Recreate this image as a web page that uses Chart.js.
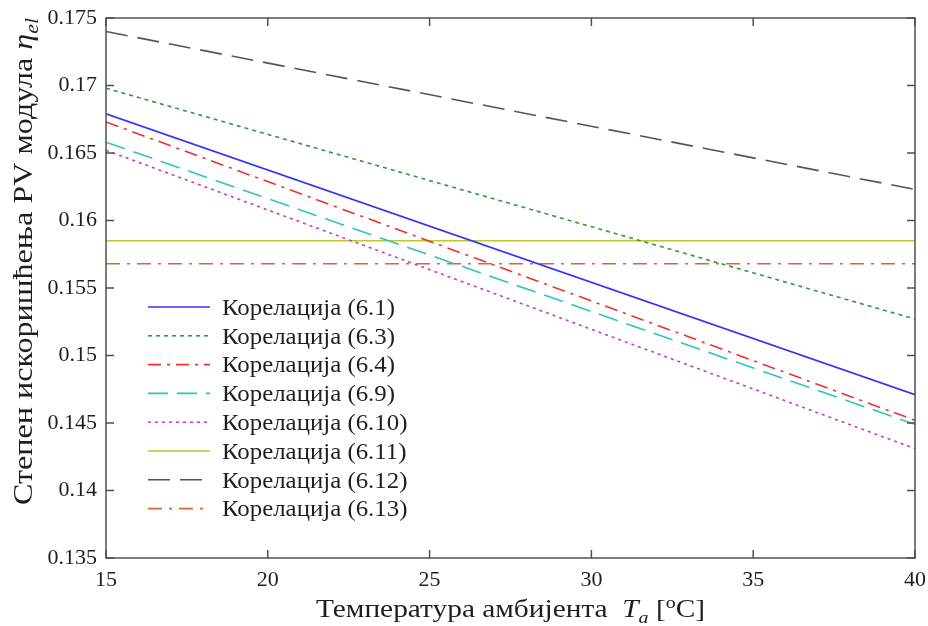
<!DOCTYPE html>
<html>
<head>
<meta charset="utf-8">
<script src="https://cdn.jsdelivr.net/npm/chart.js@4"></script>
<style>
  html, body { margin: 0; padding: 0; background: #fff; }
  #wrap { width: 928px; height: 626px; }
</style>
</head>
<body>
<div id="wrap"><canvas id="effChart" width="928" height="626"></canvas></div>
<script>
// ambient temperature, °C (all correlations are linear in T_a)
const temps = [15, 40];

// electrical efficiency per correlation
const eta61 = [0.1679, 0.1471];
const eta63 = [0.1698, 0.1527];
const eta64 = [0.1673, 0.1452];
const eta69 = [0.1658, 0.1449];
const eta610 = [0.1652, 0.1431];
const eta611 = [0.1585, 0.1585];
const eta612 = [0.1740, 0.1623];
const eta613 = [0.1568, 0.1568];

const seriesLabels = ['Корелација (6.1)', 'Корелација (6.3)', 'Корелација (6.4)', 'Корелација (6.9)',
    'Корелација (6.10)', 'Корелација (6.11)', 'Корелација (6.12)', 'Корелација (6.13)'];
const seriesValues = [eta61, eta63, eta64, eta69, eta610, eta611, eta612, eta613];

const xTicks = [15, 20, 25, 30, 35, 40];
const yTicks = [0.135, 0.14, 0.145, 0.15, 0.155, 0.16, 0.165, 0.17, 0.175];

const colors = ['#3535f5', '#2f9a3a', '#f03030', '#2cc4c0', '#c43cc8', '#c4c42c', '#555555', '#d0683a'];
const dashes = [[], [4, 4], [13, 6, 3, 6], [20, 9], [3, 4], [], [22, 10], [14, 7, 3, 7]];

const SERIF = '"Liberation Serif", "Times New Roman", serif';
const FRAME = '#505050';
const TEXT = '#1e1e1e';

function points(vals) {
    return temps.map((t, i) => ({ x: t, y: vals[i] }));
}

// box round the plot with inward ticks on all four sides
const frameTicks = {
    id: 'frameTicks',
    afterDatasetsDraw(chart) {
        const { ctx, chartArea: a, scales } = chart;
        const len = 8;
        ctx.save();
        ctx.strokeStyle = FRAME;
        ctx.lineWidth = 1.5;
        ctx.strokeRect(a.left, a.top, a.right - a.left, a.bottom - a.top);
        ctx.beginPath();
        xTicks.forEach(v => {
            const px = scales.x.getPixelForValue(v);
            ctx.moveTo(px, a.bottom); ctx.lineTo(px, a.bottom - len);
            ctx.moveTo(px, a.top); ctx.lineTo(px, a.top + len);
        });
        yTicks.forEach(v => {
            const py = scales.y.getPixelForValue(v);
            ctx.moveTo(a.left, py); ctx.lineTo(a.left + len, py);
            ctx.moveTo(a.right, py); ctx.lineTo(a.right - len, py);
        });
        ctx.stroke();
        ctx.restore();
    }
};

// legend in the lower left corner of the plot
const innerLegend = {
    id: 'innerLegend',
    afterDatasetsDraw(chart) {
        const { ctx } = chart;
        const x0 = 148, x1 = 210, y0 = 307, step = 28.8;
        ctx.save();
        ctx.font = '24px ' + SERIF;
        ctx.textBaseline = 'middle';
        const sx = 173 / ctx.measureText(seriesLabels[0]).width;
        chart.data.datasets.forEach((ds, i) => {
            const y = y0 + i * step;
            ctx.strokeStyle = ds.borderColor;
            ctx.lineWidth = 1.6;
            ctx.setLineDash(ds.borderDash);
            ctx.beginPath();
            ctx.moveTo(x0, y); ctx.lineTo(x1, y);
            ctx.stroke();
            ctx.setLineDash([]);
            ctx.fillStyle = TEXT;
            ctx.save();
            ctx.translate(222, y + 1.5);
            ctx.scale(sx, 1);
            ctx.fillText(ds.label, 0, 0);
            ctx.restore();
        });
        ctx.restore();
    }
};

// draws a run of text pieces: {t, italic, shift, small}
function drawRich(ctx, parts, size) {
    let x = 0;
    parts.forEach(p => {
        const s = p.small ? size * 0.68 : size;
        ctx.font = (p.italic ? 'italic ' : '') + s + 'px ' + SERIF;
        ctx.fillText(p.t, x, p.shift || 0);
        x += ctx.measureText(p.t).width;
    });
    return x;
}
function richWidth(ctx, parts, size) {
    let w = 0;
    parts.forEach(p => {
        const s = p.small ? size * 0.68 : size;
        ctx.font = (p.italic ? 'italic ' : '') + s + 'px ' + SERIF;
        w += ctx.measureText(p.t).width;
    });
    return w;
}

const axisTitles = {
    id: 'axisTitles',
    afterDraw(chart) {
        const { ctx } = chart;
        ctx.save();
        ctx.fillStyle = TEXT;
        ctx.textBaseline = 'alphabetic';

        const xParts = [
            { t: 'Температура амбијента  ' },
            { t: 'T', italic: true },
            { t: 'a', italic: true, small: true, shift: 6 },
            { t: ' [' },
            { t: 'o', small: true, shift: -9 },
            { t: 'C]' }
        ];
        const xSize = 26;
        ctx.save();
        ctx.translate(316, 617);
        ctx.scale(389 / richWidth(ctx, xParts, xSize), 1);
        drawRich(ctx, xParts, xSize);
        ctx.restore();

        const yParts = [
            { t: 'Степен искоришћења PV модула ' },
            { t: 'η', italic: true },
            { t: 'el', italic: true, small: true, shift: 6 }
        ];
        const ySize = 27;
        ctx.save();
        ctx.translate(32, 505);
        ctx.rotate(-Math.PI / 2);
        ctx.scale(487 / richWidth(ctx, yParts, ySize), 1);
        drawRich(ctx, yParts, ySize);
        ctx.restore();

        ctx.restore();
    }
};

const effCtx = document.getElementById('effChart').getContext('2d');

const effChart = new Chart(effCtx, {
    type: 'line',
    data: {
        datasets: seriesValues.map((vals, i) => ({
            label: seriesLabels[i],
            data: points(vals),
            borderColor: colors[i],
            borderDash: dashes[i],
            borderWidth: 1.6,
            pointRadius: 0,
            fill: false,
            tension: 0
        }))
    },
    options: {
        responsive: false,
        animation: false,
        layout: { padding: { top: 18, right: 13, left: 0, bottom: 0 } },
        plugins: {
            legend: { display: false },
            tooltip: { enabled: false }
        },
        scales: {
            x: {
                type: 'linear',
                min: 15,
                max: 40,
                afterBuildTicks: scale => { scale.ticks = xTicks.map(v => ({ value: v })); },
                afterFit: scale => { scale.height = 68; },
                grid: { display: false },
                border: { display: false },
                ticks: {
                    color: TEXT,
                    padding: 1,
                    maxRotation: 0,
                    font: { family: SERIF, size: 22 }
                }
            },
            y: {
                type: 'linear',
                min: 0.135,
                max: 0.175,
                afterBuildTicks: scale => { scale.ticks = yTicks.map(v => ({ value: v })); },
                afterFit: scale => { scale.width = 106; },
                grid: { display: false },
                border: { display: false },
                ticks: {
                    color: TEXT,
                    padding: 1,
                    font: { family: SERIF, size: 22 },
                    callback: v => String(Number(v.toFixed(3)))
                }
            }
        }
    },
    plugins: [frameTicks, innerLegend, axisTitles]
});
</script>
</body>
</html>
